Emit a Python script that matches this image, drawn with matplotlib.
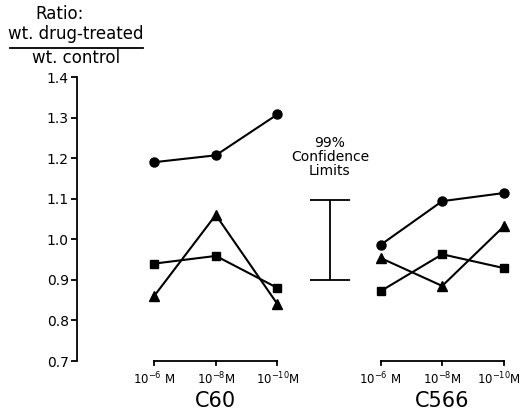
import matplotlib
matplotlib.use("Agg")
import matplotlib.pyplot as plt
import matplotlib.transforms as mtransforms

# data (ratio wt. drug-treated / wt. control)
doses = ["10$^{-6}$ M", "10$^{-8}$M", "10$^{-10}$M"]
drugs = ["C60", "C566"]
c60_x = [0, 1, 2]
c566_x = [3.67, 4.67, 5.67]
ci_x = 2.85
ci_low, ci_high = 0.90, 1.097

c60_circle = [1.19, 1.207, 1.308]
c60_triangle = [0.86, 1.06, 0.84]
c60_square = [0.94, 0.959, 0.88]

c566_circle = [0.986, 1.094, 1.114]
c566_triangle = [0.954, 0.885, 1.032]
c566_square = [0.872, 0.963, 0.929]

W, H = 522, 411
fig = plt.figure(figsize=(W / 100, H / 100), dpi=100)
ax = fig.add_axes([77 / W, (H - 361) / H, (515 - 77) / W, (361 - 77) / H])
ax.set_xlim(-1.25, 5.85)
ax.set_ylim(0.7, 1.4)

for s in ["top", "right", "bottom"]:
    ax.spines[s].set_visible(False)
ax.spines["left"].set_linewidth(1.3)
ax.set_xticks([])
ax.set_yticks([0.7, 0.8, 0.9, 1.0, 1.1, 1.2, 1.3, 1.4])
ax.set_yticklabels(["0.7", "0.8", "0.9", "1.0", "1.1", "1.2", "1.3", "1.4"])
ax.tick_params(axis="y", direction="out", length=4, width=1.3, labelsize=10, pad=2)

kw = dict(color="black", lw=1.5, clip_on=False)
for xs, circ, tri, sq in [(c60_x, c60_circle, c60_triangle, c60_square),
                          (c566_x, c566_circle, c566_triangle, c566_square)]:
    ax.plot(xs, circ, marker="o", ms=6.5, **kw)
    ax.plot(xs, tri, marker="^", ms=7, **kw)
    ax.plot(xs, sq, marker="s", ms=6, **kw)

# confidence limits bar
ax.vlines(ci_x, ci_low, ci_high, color="black", lw=1.3)
ax.hlines([ci_low, ci_high], ci_x - 0.32, ci_x + 0.32, color="black", lw=1.3)
ax.text(ci_x, ci_high + 0.055, "99%\nConfidence\nLimits", ha="center", va="bottom",
        fontsize=10, linespacing=1.0)

# bracket x axes with dose labels
trans = mtransforms.blended_transform_factory(ax.transData, ax.transAxes)
for xs, name in [(c60_x, drugs[0]), (c566_x, drugs[1])]:
    ax.plot([xs[0], xs[-1]], [0, 0], color="black", lw=1.3, transform=trans, clip_on=False)
    for x, lab in zip(xs, doses):
        ax.plot([x, x], [0, -0.014], color="black", lw=1.3, transform=trans, clip_on=False)
        # keep the far-right label inside the figure
        dx = -5 if x == c566_x[-1] else 0
        ax.annotate(lab, xy=(x, -0.035), xycoords=trans, xytext=(dx, 0),
                    textcoords="offset pixels", ha="center", va="top", fontsize=8.5)
    ax.text(xs[1], -0.105, name, ha="center", va="top", fontsize=15, transform=trans)

# y label as a ratio
fig.text(60 / W, 1 - 14 / H, "Ratio:", ha="center", va="center", fontsize=12)
fig.text(76 / W, 1 - 34 / H, "wt. drug-treated", ha="center", va="center", fontsize=12)
fig.add_artist(plt.Line2D([10 / W, 143 / W], [1 - 48 / H, 1 - 48 / H], color="black", lw=1.3))
fig.text(76 / W, 1 - 58 / H, "wt. control", ha="center", va="center", fontsize=12)

fig.savefig("out.png", dpi=100)
